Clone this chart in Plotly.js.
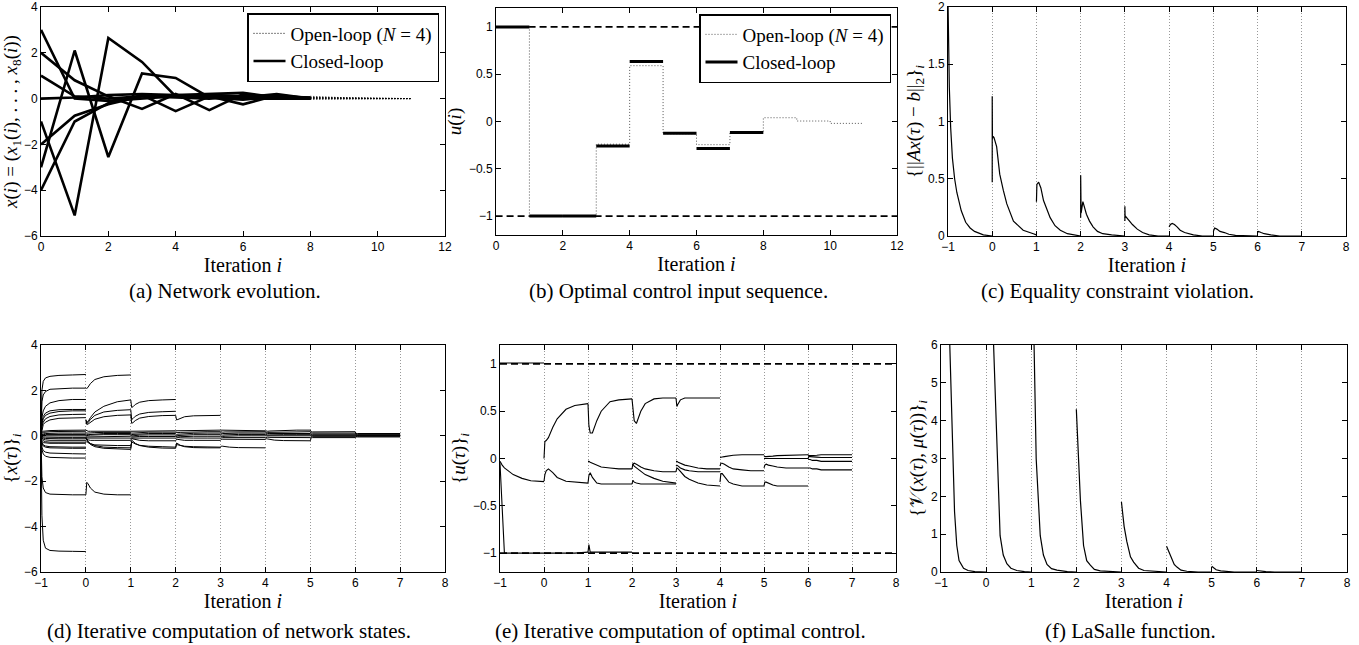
<!DOCTYPE html>
<html><head><meta charset="utf-8">
<script src="https://cdn.plot.ly/plotly-3.0.1.min.js"></script>
<style>html,body{margin:0;padding:0;background:#fff}#chart{width:1359px;height:645px}</style>
</head><body><div id="chart"></div>
<script>
// ================= DATA =================
// (a) Network evolution: closed-loop states x1..x8 for i = 0..8, open-loop tail i = 8..11
const aIter = [0, 1, 2, 3, 4, 5, 6, 7, 8];
const aStates = [
  [3, 0.0, -0.1, 0.0, 0.1, 0.05, 0.0, 0.0, 0.0],
  [2, 0.8, 0.1, -0.45, 0.2, -0.5, 0.2, 0.05, 0.0],
  [1, 0.1, 0.0, 0.1, 0.05, 0.0, 0.1, 0.05, 0.0],
  [0, 0.05, 0.15, 0.2, 0.15, 0.1, 0.05, 0.2, 0.0],
  [-1, -5.1, 2.65, 1.6, 0.1, 0.15, 0.1, 0.05, 0.05],
  [-2, -0.75, -0.25, 0.1, 0.15, 0.2, 0.25, 0.05, 0.0],
  [-3, 2.1, -2.55, 1.1, 0.9, 0.05, -0.05, 0.1, 0.05],
  [-4, -1.0, -0.2, 0.15, -0.55, 0.1, -0.25, 0.15, 0.0]
];
const aOpenIter = [8, 9, 10, 11];
const aOpen = [
  [0.05, 0.03, 0.01, 0.0],
  [0.1, 0.04, 0.02, 0.0],
  [0.0, 0.01, 0.0, 0.0],
  [-0.03, -0.01, 0.0, 0.0],
  [0.05, 0.02, 0.01, 0.0],
  [0.0, 0.0, 0.0, 0.0],
  [0.05, 0.01, 0.0, 0.0],
  [0.0, 0.01, 0.0, 0.0]
];

// (b) Optimal control input sequence
const bClosedIter = [0, 1, 2, 3, 4, 5, 6, 7];
const bClosed = [1, -1, -1, -0.26, 0.635, -0.125, -0.285, -0.115];
const bOpenIter = [0, 1, 2, 3, 4, 5, 6, 7, 8, 9, 10, 11];
const bOpen = [1, -1, -1, -0.24, 0.59, -0.13, -0.245, -0.115, 0.04, 0.005, -0.02, -0.02];
const uBounds = [-1, 1];
const uBoundIter = [-1, 12];

// (c) Equality constraint violation: one curve per iteration, [tau offset, value]
const cStarts = [-1, 0, 1, 2, 3, 4, 5, 6];
const cTau = [
  [0, 0.01, 0.03, 0.06, 0.1, 0.15, 0.2, 0.3, 0.4, 0.5, 0.6, 0.8, 1.0],
  [0, 0, 0.005, 0.02, 0.04, 0.1, 0.17, 0.25, 0.33, 0.48, 0.7, 0.93, 1.0],
  [0, 0, 0.01, 0.05, 0.1, 0.16, 0.25, 0.31, 0.42, 0.54, 0.7, 0.85, 1.0],
  [0, 0, 0.01, 0.05, 0.09, 0.13, 0.2, 0.28, 0.38, 0.5, 0.7, 1.0],
  [0, 0, 0.005, 0.02, 0.08, 0.17, 0.28, 0.4, 0.55, 0.75, 1.0],
  [0, 0.03, 0.07, 0.12, 0.18, 0.25, 0.35, 0.55, 0.75, 1.0],
  [0, 0.03, 0.08, 0.15, 0.25, 0.35, 0.5, 1.0],
  [0, 0.02, 0.08, 0.15, 0.3, 0.5, 1.0]
];
const cVals = [
  [2.05, 1.7, 1.3, 0.95, 0.68, 0.5, 0.38, 0.22, 0.12, 0.07, 0.04, 0.01, 0.0],
  [0.47, 1.22, 0.85, 0.87, 0.86, 0.78, 0.54, 0.4, 0.28, 0.13, 0.05, 0.02, 0.01],
  [0.3, 0.44, 0.45, 0.47, 0.42, 0.31, 0.22, 0.16, 0.09, 0.05, 0.02, 0.01, 0.0],
  [0.16, 0.53, 0.2, 0.3, 0.25, 0.19, 0.13, 0.08, 0.04, 0.02, 0.01, 0.0],
  [0.13, 0.26, 0.16, 0.17, 0.14, 0.1, 0.06, 0.03, 0.01, 0.0, 0.0],
  [0.08, 0.1, 0.11, 0.1, 0.08, 0.05, 0.03, 0.01, 0.0, 0.0],
  [0.04, 0.07, 0.06, 0.04, 0.03, 0.015, 0.005, 0.0],
  [0.03, 0.04, 0.03, 0.02, 0.01, 0.0, 0.0]
];

// (d) Iterative computation of network states: curves per iteration at tau offsets
const dTau = [0, 0.02, 0.05, 0.1, 0.2, 0.4, 0.7, 1.0];
const dStarts = [-1, 0, 1, 2, 3, 4, 5, 6];
const dCurves = [
  [ // -1 .. 0
    [0, 2.0, 2.4, 2.55, 2.62, 2.66, 2.68, 2.7],
    [0, 1.5, 1.8, 1.95, 2.05, 2.08, 2.1, 2.1],
    [0, 0.8, 1.1, 1.3, 1.45, 1.55, 1.6, 1.6],
    [0, 0.6, 0.85, 1.0, 1.1, 1.15, 1.16, 1.16],
    [0, 0.5, 0.75, 0.9, 1.0, 1.07, 1.1, 1.1],
    [0, 0.4, 0.6, 0.75, 0.85, 0.92, 0.94, 0.95],
    [0, 0.3, 0.5, 0.6, 0.7, 0.77, 0.8, 0.8],
    [0, 0.15, 0.2, 0.22, 0.23, 0.24, 0.25, 0.25],
    [0, 0.1, 0.15, 0.17, 0.18, 0.19, 0.2, 0.2],
    [0, 0.05, 0.08, 0.1, 0.11, 0.12, 0.12, 0.12],
    [0, 0.03, 0.05, 0.06, 0.06, 0.06, 0.06, 0.06],
    [0, 0.0, 0.0, 0.0, 0.0, 0.0, 0.0, 0.0],
    [0, -0.03, -0.05, -0.06, -0.07, -0.07, -0.07, -0.07],
    [0, -0.06, -0.1, -0.12, -0.13, -0.13, -0.13, -0.13],
    [0, -0.1, -0.15, -0.18, -0.2, -0.2, -0.2, -0.2],
    [0, -0.15, -0.22, -0.26, -0.28, -0.28, -0.28, -0.28],
    [0, -0.25, -0.3, -0.32, -0.33, -0.33, -0.33, -0.33],
    [0, -0.3, -0.4, -0.45, -0.48, -0.5, -0.5, -0.5],
    [0, -0.35, -0.45, -0.5, -0.53, -0.55, -0.55, -0.55],
    [0, -0.5, -0.65, -0.72, -0.76, -0.78, -0.79, -0.8],
    [0, -0.6, -0.8, -0.9, -0.95, -0.97, -0.98, -0.98],
    [0, -1.8, -2.3, -2.5, -2.57, -2.59, -2.6, -2.6],
    [0, -3.5, -4.6, -4.95, -5.05, -5.08, -5.09, -5.1]
  ],
  [ // 0 .. 1
    [2.12, 2.08, 2.15, 2.3, 2.48, 2.6, 2.66, 2.68],
    [0.72, 0.6, 0.63, 0.8, 1.05, 1.3, 1.5, 1.58],
    [0.68, 0.55, 0.58, 0.72, 0.9, 1.05, 1.12, 1.15],
    [0.62, 0.5, 0.52, 0.6, 0.73, 0.84, 0.9, 0.92],
    [-2.6, -2.05, -2.12, -2.3, -2.48, -2.57, -2.6, -2.6],
    [0.25, 0.22, 0.2, 0.2, 0.2, 0.2, 0.2, 0.2],
    [0.15, 0.12, 0.12, 0.13, 0.14, 0.15, 0.15, 0.15],
    [0.1, 0.05, 0.05, 0.06, 0.08, 0.1, 0.1, 0.1],
    [0.0, 0.02, 0.02, 0.03, 0.04, 0.05, 0.05, 0.05],
    [-0.05, -0.05, -0.05, -0.04, -0.03, -0.02, -0.02, -0.02],
    [-0.1, -0.1, -0.1, -0.1, -0.1, -0.1, -0.1, -0.1],
    [-0.2, -0.15, -0.18, -0.2, -0.2, -0.2, -0.2, -0.2],
    [-0.1, -0.2, -0.28, -0.38, -0.48, -0.55, -0.58, -0.6],
    [-0.05, -0.18, -0.25, -0.34, -0.43, -0.5, -0.52, -0.53],
    [-0.3, -0.25, -0.3, -0.35, -0.4, -0.42, -0.43, -0.43]
  ],
  [ // 1 .. 2
    [1.58, 1.25, 1.28, 1.38, 1.48, 1.55, 1.58, 1.6],
    [1.15, 0.72, 0.76, 0.86, 0.96, 1.03, 1.06, 1.08],
    [0.92, 0.55, 0.58, 0.67, 0.78, 0.85, 0.89, 0.9],
    [-0.6, -0.2, -0.24, -0.33, -0.43, -0.5, -0.54, -0.55],
    [-0.53, -0.28, -0.3, -0.36, -0.42, -0.46, -0.48, -0.5],
    [0.2, 0.2, 0.2, 0.22, 0.22, 0.22, 0.22, 0.22],
    [0.15, 0.12, 0.12, 0.13, 0.15, 0.16, 0.16, 0.16],
    [0.1, 0.05, 0.06, 0.07, 0.08, 0.1, 0.1, 0.1],
    [0.05, 0.0, 0.0, 0.02, 0.03, 0.04, 0.04, 0.04],
    [-0.02, -0.05, -0.05, -0.04, -0.03, -0.03, -0.03, -0.03],
    [-0.1, -0.1, -0.1, -0.1, -0.1, -0.1, -0.1, -0.1],
    [-0.2, -0.12, -0.14, -0.17, -0.2, -0.22, -0.22, -0.22]
  ],
  [ // 2 .. 3
    [0.9, 0.7, 0.72, 0.77, 0.84, 0.88, 0.9, 0.9],
    [-0.55, -0.32, -0.35, -0.42, -0.48, -0.52, -0.53, -0.53],
    [-0.5, -0.38, -0.4, -0.43, -0.46, -0.48, -0.5, -0.5],
    [0.22, 0.22, 0.22, 0.23, 0.24, 0.25, 0.25, 0.25],
    [0.16, 0.14, 0.14, 0.15, 0.16, 0.17, 0.18, 0.18],
    [0.1, 0.06, 0.07, 0.08, 0.1, 0.11, 0.12, 0.12],
    [0.04, 0.0, 0.01, 0.02, 0.04, 0.05, 0.05, 0.05],
    [-0.03, -0.05, -0.05, -0.04, -0.03, -0.02, -0.02, -0.02],
    [-0.1, -0.08, -0.08, -0.09, -0.1, -0.1, -0.1, -0.1],
    [-0.22, -0.15, -0.16, -0.18, -0.2, -0.2, -0.2, -0.2]
  ],
  [ // 3 .. 4
    [-0.5, -0.45, -0.46, -0.48, -0.5, -0.52, -0.53, -0.53],
    [0.25, 0.25, 0.24, 0.24, 0.23, 0.22, 0.22, 0.22],
    [0.18, 0.16, 0.16, 0.17, 0.17, 0.18, 0.18, 0.18],
    [0.12, 0.1, 0.1, 0.1, 0.11, 0.12, 0.12, 0.12],
    [0.05, 0.03, 0.03, 0.04, 0.05, 0.06, 0.06, 0.06],
    [-0.02, -0.03, -0.03, -0.02, -0.01, 0, 0, 0],
    [-0.1, -0.08, -0.08, -0.08, -0.08, -0.08, -0.08, -0.08],
    [-0.2, -0.15, -0.15, -0.15, -0.16, -0.16, -0.16, -0.16]
  ],
  [ // 4 .. 5
    [0.22, 0.2, 0.2, 0.21, 0.22, 0.24, 0.25, 0.25],
    [0.18, 0.15, 0.15, 0.15, 0.16, 0.17, 0.18, 0.18],
    [0.12, 0.1, 0.1, 0.1, 0.1, 0.1, 0.1, 0.1],
    [0.06, 0.04, 0.04, 0.04, 0.05, 0.05, 0.05, 0.05],
    [0, 0, 0, 0, 0, 0, 0, 0],
    [-0.08, -0.06, -0.06, -0.07, -0.07, -0.08, -0.08, -0.08],
    [-0.16, -0.13, -0.14, -0.16, -0.19, -0.21, -0.22, -0.22]
  ],
  [ // 5 .. 6
    [0.25, 0.18, 0.17, 0.17, 0.17, 0.18, 0.18, 0.18],
    [0.18, 0.12, 0.12, 0.12, 0.12, 0.12, 0.12, 0.12],
    [0.1, 0.07, 0.07, 0.07, 0.07, 0.07, 0.07, 0.07],
    [0.05, 0.03, 0.03, 0.03, 0.03, 0.03, 0.03, 0.03],
    [0, 0, 0, 0, 0, 0, 0, 0],
    [-0.08, -0.04, -0.04, -0.04, -0.04, -0.04, -0.04, -0.04],
    [-0.22, -0.08, -0.08, -0.08, -0.08, -0.08, -0.08, -0.08]
  ],
  [ // 6 .. 7
    [0.18, 0.1, 0.1, 0.1, 0.1, 0.1, 0.1, 0.1],
    [0.12, 0.07, 0.07, 0.07, 0.07, 0.07, 0.07, 0.07],
    [0.07, 0.04, 0.04, 0.04, 0.04, 0.04, 0.04, 0.04],
    [0.03, 0.02, 0.02, 0.02, 0.02, 0.02, 0.02, 0.02],
    [0, 0, 0, 0, 0, 0, 0, 0],
    [-0.04, -0.02, -0.02, -0.02, -0.02, -0.02, -0.02, -0.02],
    [-0.08, -0.05, -0.05, -0.05, -0.05, -0.05, -0.05, -0.05]
  ]
];

// (e) Iterative computation of optimal control
const eTau = [0, 0.02, 0.05, 0.1, 0.2, 0.3, 0.5, 0.7, 1.0];
const eStarts = [-1, 0, 1, 2, 3, 4, 5, 6];
const eCurves = [
  [ // -1 .. 0
    [1.01, 1.01, 1.01, 1.01, 1.01, 1.01, 1.01, 1.01, 1.01],
    [-0.03, -0.05, -0.07, -0.1, -0.14, -0.17, -0.21, -0.235, -0.245],
    [-0.05, -0.25, -0.65, -1.0, -1.0, -1.0, -1.0, -1.0, -1.0]
  ],
  [ // 0 .. 1
    [0.0, 0.18, 0.19, 0.22, 0.33, 0.42, 0.52, 0.56, 0.58],
    [-0.24, -0.17, -0.13, -0.11, -0.15, -0.2, -0.24, -0.25, -0.26],
    [-1.0, -1.0, -1.0, -1.0, -1.0, -1.0, -1.0, -1.0, -0.99]
  ],
  [ // 1 .. 2
    [0.58, 0.35, 0.27, 0.27, 0.4, 0.5, 0.6, 0.62, 0.63],
    [-0.26, -0.18, -0.15, -0.2, -0.26, -0.27, -0.27, -0.27, -0.27],
    [-0.03, -0.03, -0.04, -0.05, -0.07, -0.09, -0.1, -0.11, -0.11],
    [-0.99, -0.91, -0.99, -0.99, -0.99, -0.99, -0.99, -0.99, -0.99]
  ],
  [ // 2 .. 3
    [0.63, 0.5, 0.4, 0.37, 0.5, 0.58, 0.63, 0.64, 0.64],
    [-0.11, -0.06, -0.05, -0.06, -0.09, -0.11, -0.13, -0.14, -0.14],
    [-0.27, -0.23, -0.25, -0.26, -0.27, -0.27, -0.27, -0.27, -0.27],
    [-0.06, -0.06, -0.08, -0.1, -0.14, -0.17, -0.21, -0.24, -0.26]
  ],
  [ // 3 .. 4
    [0.64, 0.55, 0.58, 0.62, 0.64, 0.64, 0.64, 0.64, 0.64],
    [-0.03, -0.03, -0.04, -0.05, -0.07, -0.08, -0.1, -0.11, -0.11],
    [-0.08, -0.07, -0.08, -0.1, -0.12, -0.13, -0.14, -0.14, -0.14],
    [-0.14, -0.1, -0.11, -0.14, -0.19, -0.22, -0.26, -0.28, -0.29]
  ],
  [ // 4 .. 5
    [0.01, 0.01, 0.015, 0.02, 0.03, 0.035, 0.04, 0.04, 0.04],
    [-0.08, -0.05, -0.05, -0.06, -0.09, -0.11, -0.12, -0.13, -0.13],
    [-0.25, -0.16, -0.16, -0.19, -0.25, -0.27, -0.29, -0.29, -0.29]
  ],
  [ // 5 .. 6
    [0.03, 0.02, 0.02, 0.02, 0.025, 0.03, 0.035, 0.04, 0.04],
    [0.0, 0.0, 0.0, 0.0, 0.0, 0.0, 0.0, 0.0, 0.0],
    [-0.1, -0.07, -0.06, -0.07, -0.08, -0.09, -0.1, -0.1, -0.1],
    [-0.29, -0.25, -0.25, -0.26, -0.28, -0.29, -0.29, -0.29, -0.29]
  ],
  [ // 6 .. 7
    [0.04, 0.03, 0.03, 0.03, 0.035, 0.04, 0.04, 0.04, 0.04],
    [0.0, 0.02, 0.02, 0.02, 0.015, 0.01, 0.01, 0.01, 0.01],
    [0.0, -0.01, -0.01, -0.02, -0.02, -0.03, -0.03, -0.03, -0.03],
    [-0.1, -0.1, -0.1, -0.11, -0.11, -0.12, -0.12, -0.12, -0.12]
  ]
];

// (f) LaSalle function
const fStarts = [-1, 0, 1, 2, 3, 4, 5, 6];
const fTau = [
  [0.19, 0.26, 0.3, 0.35, 0.4, 0.5, 0.6, 0.75, 1.0],
  [0.16, 0.24, 0.31, 0.38, 0.46, 0.55, 0.68, 0.85, 1.0],
  [0.06, 0.11, 0.2, 0.27, 0.35, 0.45, 0.57, 0.8, 1.0],
  [0, 0.09, 0.16, 0.23, 0.31, 0.4, 0.53, 0.75, 1.0],
  [0, 0.06, 0.12, 0.2, 0.27, 0.38, 0.5, 0.75, 1.0],
  [0, 0.05, 0.1, 0.17, 0.23, 0.32, 0.45, 0.7, 1.0],
  [0, 0.05, 0.1, 0.2, 0.3, 0.5, 1.0],
  [0, 0.1, 0.2, 0.4, 1.0]
];
const fVals = [
  [6.2, 3.0, 1.6, 0.7, 0.3, 0.1, 0.04, 0.01, 0.0],
  [6.2, 3.15, 0.96, 0.45, 0.22, 0.1, 0.04, 0.01, 0.0],
  [6.2, 3.0, 0.96, 0.45, 0.2, 0.09, 0.05, 0.01, 0.0],
  [4.3, 1.9, 0.7, 0.3, 0.18, 0.07, 0.03, 0.01, 0.0],
  [1.85, 1.2, 0.8, 0.4, 0.26, 0.1, 0.04, 0.01, 0.0],
  [0.68, 0.55, 0.4, 0.2, 0.13, 0.05, 0.02, 0.0, 0.0],
  [0.15, 0.1, 0.06, 0.03, 0.015, 0.0, 0.0],
  [0.04, 0.02, 0.01, 0.0, 0.0]
];

// ================= BUILD =================
const BLACK = '#000';
function flatten(starts, taus, vals, sharedTau) {
  const x = [], y = [];
  vals.forEach((curves, k) => {
    const list = sharedTau ? curves : [curves];
    list.forEach((c) => {
      const t = sharedTau ? sharedTau : taus[k];
      c.forEach((v, m) => { x.push(starts[k] + t[m]); y.push(v); });
      x.push(null); y.push(null);
    });
  });
  return {x, y};
}

const traces = [];

// ---- (a)
aOpen.forEach((s, k) => traces.push({
  x: aOpenIter, y: s, xaxis: 'x', yaxis: 'y', mode: 'lines', type: 'scatter',
  line: {color: BLACK, width: 1, dash: '1px,2px'}, name: 'Open-loop (<i>N</i> = 4)',
  legend: 'legend', showlegend: k === 0, hoverinfo: 'skip'
}));
aStates.forEach((s, k) => traces.push({
  x: aIter, y: s, xaxis: 'x', yaxis: 'y', mode: 'lines', type: 'scatter',
  line: {color: BLACK, width: 2.6}, name: 'Closed-loop',
  legend: 'legend', showlegend: k === 0, hoverinfo: 'skip'
}));

// ---- (b)
uBounds.forEach(b => traces.push({
  x: uBoundIter, y: uBoundIter.map(() => b), xaxis: 'x2', yaxis: 'y2', mode: 'lines',
  line: {color: BLACK, width: 1.8, dash: '7px,4px'}, showlegend: false, hoverinfo: 'skip'
}));
traces.push({
  x: bOpenIter, y: bOpen, xaxis: 'x2', yaxis: 'y2', mode: 'lines',
  line: {color: '#555', width: 1, dash: '1px,2px', shape: 'hv'}, name: 'Open-loop (<i>N</i> = 4)',
  legend: 'legend2', showlegend: true, hoverinfo: 'skip'
});
(function () {
  const x = [], y = [];
  bClosedIter.forEach((i, k) => { x.push(i, i + 1, null); y.push(bClosed[k], bClosed[k], null); });
  traces.push({
    x, y, xaxis: 'x2', yaxis: 'y2', mode: 'lines', line: {color: BLACK, width: 3},
    name: 'Closed-loop', legend: 'legend2', showlegend: true, hoverinfo: 'skip'
  });
})();

// ---- (c)
(function () {
  const d = flatten(cStarts, cTau, cVals, null);
  traces.push({x: d.x, y: d.y, xaxis: 'x3', yaxis: 'y3', mode: 'lines',
    line: {color: BLACK, width: 1.2}, showlegend: false, hoverinfo: 'skip'});
})();

// ---- (d)
(function () {
  const d = flatten(dStarts, null, dCurves, dTau);
  traces.push({x: d.x, y: d.y, xaxis: 'x4', yaxis: 'y4', mode: 'lines',
    line: {color: BLACK, width: 1}, showlegend: false, hoverinfo: 'skip'});
})();

// ---- (e)
uBounds.forEach(b => traces.push({
  x: [-1, 8], y: [b, b], xaxis: 'x5', yaxis: 'y5', mode: 'lines',
  line: {color: BLACK, width: 1.8, dash: '7px,4px'}, showlegend: false, hoverinfo: 'skip'
}));
(function () {
  const d = flatten(eStarts, null, eCurves, eTau);
  traces.push({x: d.x, y: d.y, xaxis: 'x5', yaxis: 'y5', mode: 'lines',
    line: {color: BLACK, width: 1.1}, showlegend: false, hoverinfo: 'skip'});
})();

// ---- (f)
(function () {
  const d = flatten(fStarts, fTau, fVals, null);
  traces.push({x: d.x, y: d.y, xaxis: 'x6', yaxis: 'y6', mode: 'lines',
    line: {color: BLACK, width: 1.2}, showlegend: false, hoverinfo: 'skip'});
})();

// ================= LAYOUT =================
const W = 1359, H = 645;
const px = (a, b) => [a / W, b / W];
const py = (top, bottom) => [1 - bottom / H, 1 - top / H];
const tickFont = {family: 'Liberation Sans', size: 12, color: BLACK};
const serif = 'Liberation Serif';
const titleFont = {family: serif, size: 20, color: BLACK};

function xax(dom, range, dtick, anchor, grid) {
  return {
    domain: dom, range: range, dtick: dtick, tick0: 0, anchor: anchor,
    showline: true, mirror: 'allticks', linecolor: BLACK, linewidth: 1,
    ticks: 'inside', ticklen: 5, tickcolor: BLACK, zeroline: false,
    showgrid: !!grid, gridcolor: '#999', griddash: '1px,2px', gridwidth: 1,
    tickfont: tickFont, fixedrange: true,
    title: {text: 'Iteration <i>i</i>', font: titleFont, standoff: 2}
  };
}
function yax(dom, range, dtick, anchor, title) {
  return {
    domain: dom, range: range, dtick: dtick, tick0: 0, anchor: anchor,
    showline: true, mirror: 'allticks', linecolor: BLACK, linewidth: 1,
    ticks: 'inside', ticklen: 5, tickcolor: BLACK, zeroline: false, showgrid: false,
    tickfont: tickFont, fixedrange: true,
    title: {text: title, font: {family: serif, size: 19, color: BLACK}, standoff: 2}
  };
}

const row1 = py(7, 236), row2 = py(345, 572);
const layout = {
  width: W, height: H, margin: {l: 0, r: 0, t: 0, b: 0},
  paper_bgcolor: '#fff', plot_bgcolor: '#fff',
  font: {family: 'Liberation Sans', color: BLACK},
  xaxis: xax(px(41, 445), [0, 12], 2, 'y', false),
  yaxis: yax(row1, [-6, 4], 2, 'x',
    '<i>x</i>(<i>i</i>) = (<i>x</i><sub>1</sub>(<i>i</i>), . . . , <i>x</i><sub>8</sub>(<i>i</i>))'),
  xaxis2: xax(px(496, 897), [0, 12], 2, 'y2', false),
  yaxis2: yax(py(8, 235), [-1.2, 1.2], 0.5, 'x2', '<i>u</i>(<i>i</i>)'),
  xaxis3: xax(px(948, 1346), [-1, 8], 1, 'y3', true),
  yaxis3: yax(row1, [0, 2], 0.5, 'x3',
    '{||<i>Ax</i>(<i>τ</i>) − <i>b</i>||<sub>2</sub>}<sub><i>i</i></sub>'),
  xaxis4: xax(px(41, 445), [-1, 8], 1, 'y4', true),
  yaxis4: yax(row2, [-6, 4], 2, 'x4', '{<i>x</i>(<i>τ</i>)}<sub><i>i</i></sub>'),
  xaxis5: xax(px(500, 896), [-1, 8], 1, 'y5', true),
  yaxis5: yax(row2, [-1.2, 1.2], 0.5, 'x5', '{<i>u</i>(<i>τ</i>)}<sub><i>i</i></sub>'),
  xaxis6: xax(px(941, 1347), [-1, 8], 1, 'y6', true),
  yaxis6: yax(row2, [0, 6], 1, 'x6',
    '{𝒱(<i>x</i>(<i>τ</i>), <i>μ</i>(<i>τ</i>))}<sub><i>i</i></sub>'),
  legend: {
    x: 439 / W, y: 1 - 13 / H, xanchor: 'right', yanchor: 'top',
    bgcolor: '#fff', bordercolor: BLACK, borderwidth: 1.5,
    font: {family: serif, size: 19, color: BLACK}, tracegroupgap: 0, itemwidth: 32
  },
  legend2: {
    x: 891 / W, y: 1 - 14 / H, xanchor: 'right', yanchor: 'top',
    bgcolor: '#fff', bordercolor: BLACK, borderwidth: 1.5,
    font: {family: serif, size: 19, color: BLACK}, tracegroupgap: 0, itemwidth: 32
  },
  annotations: [
    ['(a) Network evolution.', 225, 291],
    ['(b) Optimal control input sequence.', 678, 291],
    ['(c) Equality constraint violation.', 1117, 291],
    ['(d) Iterative computation of network states.', 229, 631],
    ['(e) Iterative computation of optimal control.', 680, 631],
    ['(f) LaSalle function.', 1130, 631]
  ].map(([t, x, y]) => ({
    text: t, x: x / W, y: 1 - y / H, xref: 'paper', yref: 'paper',
    xanchor: 'center', yanchor: 'middle', showarrow: false,
    font: {family: serif, size: 21, color: BLACK}
  }))
};

Plotly.newPlot('chart', traces, layout, {displayModeBar: false, staticPlot: true});
</script>
</body></html>
